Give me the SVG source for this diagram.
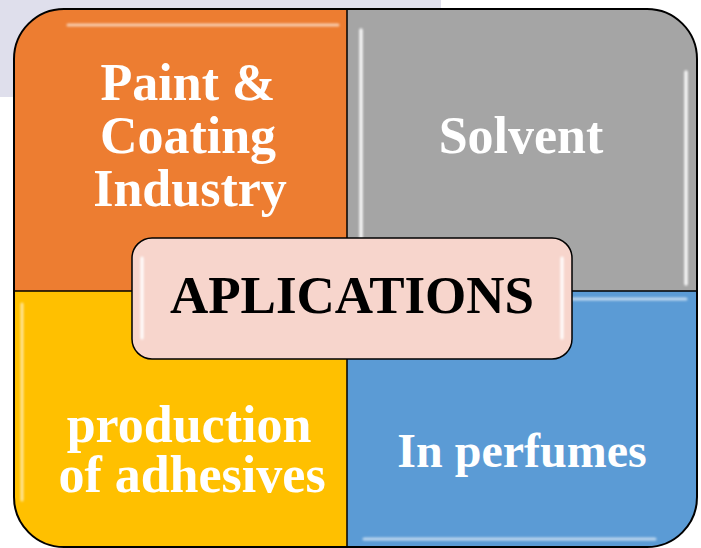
<svg xmlns="http://www.w3.org/2000/svg" width="701" height="548" viewBox="0 0 701 548">
<style>
.lbl{font-family:"Liberation Serif","Times New Roman",serif;font-weight:bold;font-size:52px;fill:#ffffff;text-anchor:middle}
.ctr{font-family:"Liberation Serif","Times New Roman",serif;font-weight:bold;font-size:53px;fill:#000000;text-anchor:middle}
.div{stroke:#000;stroke-width:1.5;fill:none}
.hl{fill:none;stroke:#ffffff;stroke-linecap:round;filter:url(#soft)}
</style>
<defs>
<clipPath id="frameClip"><rect x="14" y="9" width="683" height="538" rx="50" ry="50"/></clipPath>
<filter id="soft" filterUnits="userSpaceOnUse" x="0" y="0" width="701" height="548"><feGaussianBlur stdDeviation="0.9"/></filter>
</defs>
<rect x="0" y="0" width="441" height="97" fill="#DFDFEC"/>
<g clip-path="url(#frameClip)">
<g id="node-paint">
<rect x="14" y="9" width="333" height="282" fill="#ED7D31"/>
<line class="hl" x1="68" y1="25" x2="338" y2="25" stroke-width="3" stroke-opacity="0.6"/>
<text class="lbl" x="188" y="100">Paint &amp;</text>
<text class="lbl" x="188" y="153">Coating</text>
<text class="lbl" x="190" y="206">Industry</text>
</g>
<g id="node-solvent">
<rect x="347" y="9" width="350" height="282" fill="#A5A5A5"/>
<line class="hl" x1="361" y1="30" x2="361" y2="284" stroke-width="3.5" stroke-opacity="0.9"/>
<line class="hl" x1="686" y1="72" x2="686" y2="284" stroke-width="3.5" stroke-opacity="0.9"/>
<text class="lbl" x="521" y="153">Solvent</text>
</g>
<g id="node-adhesives">
<rect x="14" y="291" width="333" height="256" fill="#FFC000"/>
<line class="hl" x1="22" y1="304" x2="22" y2="500" stroke-width="3" stroke-opacity="0.6"/>
<text class="lbl" x="189" y="442">production</text>
<text class="lbl" x="192" y="492">of adhesives</text>
</g>
<g id="node-perfumes">
<rect x="347" y="291" width="350" height="256" fill="#5B9BD5"/>
<line class="hl" x1="364" y1="299" x2="686" y2="299" stroke-width="3" stroke-opacity="0.6"/>
<line class="hl" x1="364" y1="539" x2="655" y2="539" stroke-width="3" stroke-opacity="0.6"/>
<text class="lbl" x="522" y="467" style="font-size:48px">In perfumes</text>
</g>
</g>
<line class="div" x1="347" y1="9" x2="347" y2="547"/>
<line class="div" x1="14" y1="291" x2="697" y2="291"/>
<rect x="14" y="9" width="683" height="538" rx="50" ry="50" fill="none" stroke="#000" stroke-width="2"/>
<g id="connectors"></g>
<g id="node-applications">
<rect x="132" y="238" width="440" height="121" rx="20" ry="20" fill="#F7D5CC" stroke="#000" stroke-width="1.5"/>
<line class="hl" x1="142" y1="258" x2="142" y2="338" stroke-width="3"/>
<line class="hl" x1="562" y1="258" x2="562" y2="338" stroke-width="3"/>
<text class="ctr" x="352" y="313">APLICATIONS</text>
</g>
</svg>
